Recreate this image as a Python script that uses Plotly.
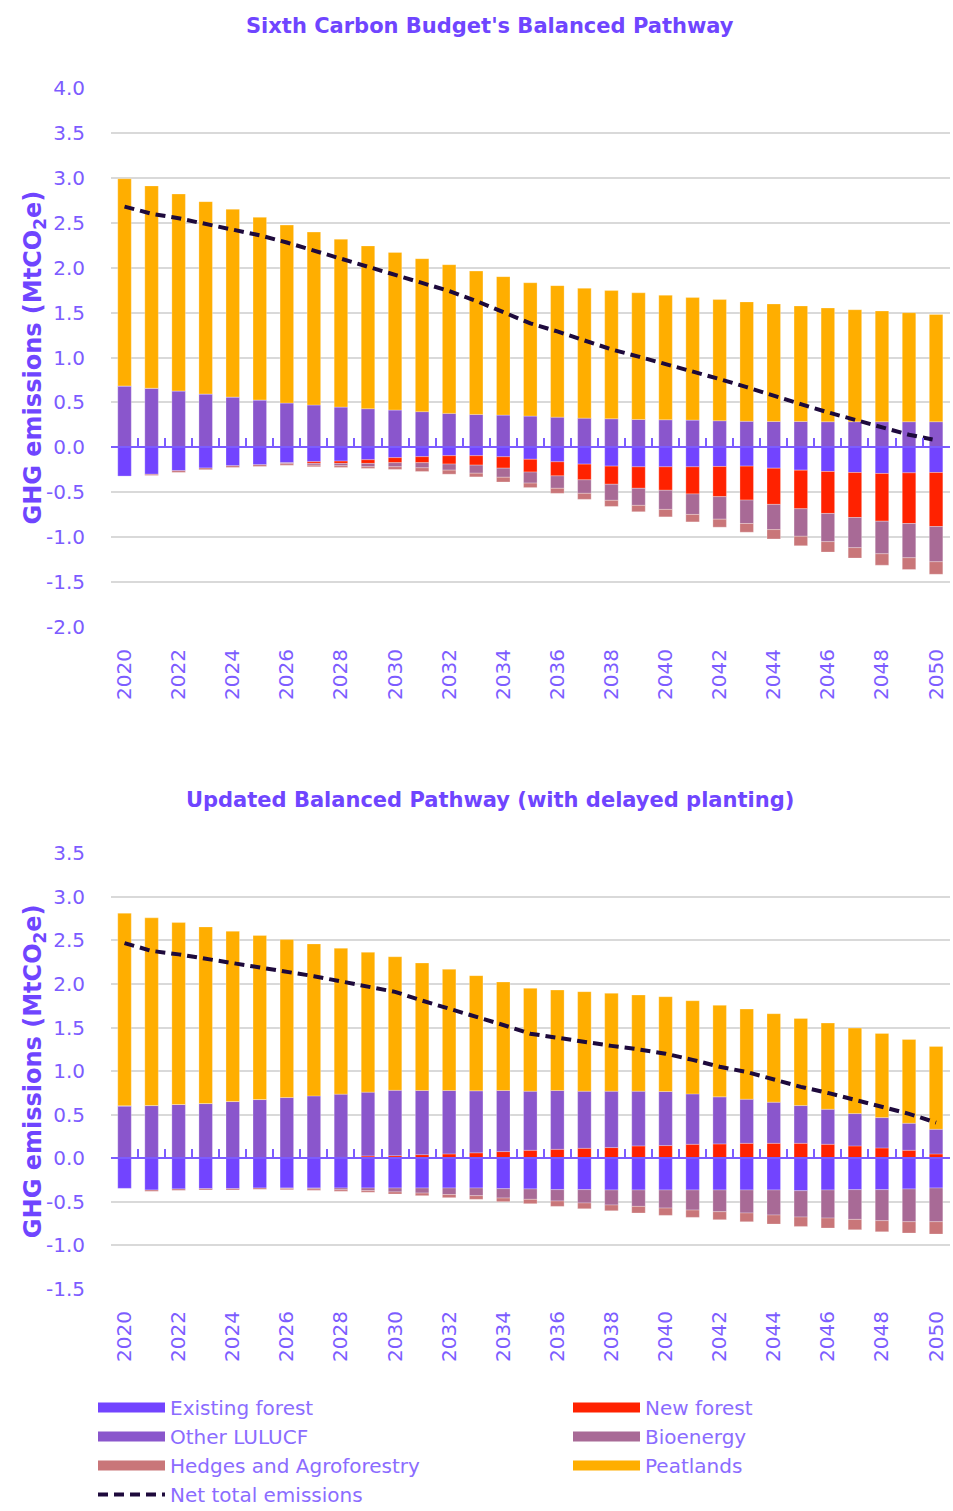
import plotly.graph_objects as go

years = list(range(2020, 2051))
even_years = list(range(2020, 2051, 2))
top_yticks = [-2.0, -1.5, -1.0, -0.5, 0.0, 0.5, 1.0, 1.5, 2.0, 2.5, 3.0, 3.5, 4.0]
bot_yticks = [-1.5, -1.0, -0.5, 0.0, 0.5, 1.0, 1.5, 2.0, 2.5, 3.0, 3.5]

# ---- Sixth Carbon Budget's Balanced Pathway (top) ----
top_existing = [-0.32, -0.30, -0.26, -0.23, -0.205, -0.194, -0.171, -0.16, -0.153, -0.138, -0.115,
                -0.104, -0.093, -0.093, -0.105, -0.133, -0.161, -0.187, -0.209, -0.217, -0.217,
                -0.217, -0.213, -0.209, -0.232, -0.254, -0.269, -0.28, -0.291, -0.284, -0.28]
top_new = [0, 0, 0.01, 0.01, 0.005, 0, 0, -0.019, -0.026, -0.041, -0.056,
           -0.067, -0.093, -0.105, -0.127, -0.142, -0.157, -0.175, -0.202, -0.239, -0.261,
           -0.302, -0.336, -0.378, -0.403, -0.43, -0.467, -0.501, -0.531, -0.564, -0.602]
top_other = [0.684, 0.658, 0.618, 0.584, 0.555, 0.527, 0.493, 0.471, 0.448, 0.43, 0.415,
             0.397, 0.378, 0.366, 0.359, 0.348, 0.336, 0.325, 0.318, 0.31, 0.307,
             0.303, 0.296, 0.29, 0.288, 0.288, 0.285, 0.285, 0.285, 0.285, 0.285]
top_bio = [0, 0, 0, 0, 0, 0, -0.012, -0.02, -0.026, -0.037, -0.045,
           -0.057, -0.068, -0.09, -0.101, -0.123, -0.138, -0.15, -0.179, -0.19, -0.213,
           -0.228, -0.251, -0.261, -0.281, -0.306, -0.314, -0.336, -0.363, -0.381, -0.392]
top_hedges = [0, -0.013, -0.019, -0.019, -0.019, -0.019, -0.017, -0.017, -0.019, -0.019, -0.03,
              -0.041, -0.045, -0.041, -0.053, -0.05, -0.056, -0.067, -0.068, -0.071, -0.083,
              -0.083, -0.089, -0.097, -0.104, -0.105, -0.116, -0.116, -0.127, -0.131, -0.139]
top_peat = [2.306, 2.252, 2.192, 2.141, 2.09, 2.033, 1.981, 1.925, 1.869, 1.812, 1.755,
            1.703, 1.655, 1.596, 1.541, 1.484, 1.464, 1.445, 1.427, 1.41, 1.386,
            1.364, 1.349, 1.329, 1.308, 1.286, 1.266, 1.247, 1.233, 1.214, 1.195]
top_net = [2.68, 2.60, 2.55, 2.49, 2.43, 2.36, 2.28, 2.19, 2.10, 2.01, 1.93,
           1.84, 1.74, 1.63, 1.51, 1.38, 1.29, 1.19, 1.09, 1.01, 0.93,
           0.84, 0.76, 0.67, 0.57, 0.48, 0.39, 0.31, 0.22, 0.14, 0.08]

# ---- Updated Balanced Pathway (with delayed planting) (bottom) ----
bot_existing = [-0.345, -0.364, -0.352, -0.349, -0.349, -0.341, -0.341, -0.341, -0.341, -0.341, -0.341,
                -0.341, -0.341, -0.341, -0.349, -0.352, -0.36, -0.36, -0.364, -0.364, -0.364,
                -0.364, -0.364, -0.364, -0.364, -0.372, -0.364, -0.36, -0.36, -0.352, -0.341]
bot_new = [0, 0, 0, 0, 0, 0, 0, 0.005, 0.01, 0.027, 0.03,
           0.042, 0.05, 0.063, 0.077, 0.092, 0.103, 0.115, 0.123, 0.142, 0.146,
           0.161, 0.165, 0.172, 0.172, 0.172, 0.161, 0.142, 0.119, 0.092, 0.05]
bot_other = [0.602, 0.605, 0.617, 0.628, 0.651, 0.674, 0.697, 0.711, 0.726, 0.732, 0.75,
             0.736, 0.728, 0.711, 0.701, 0.678, 0.675, 0.655, 0.647, 0.628, 0.62,
             0.578, 0.54, 0.506, 0.472, 0.433, 0.402, 0.371, 0.348, 0.31, 0.283]
bot_bio = [0, 0, 0, 0, 0, 0, -0.005, -0.01, -0.02, -0.03, -0.045,
           -0.058, -0.075, -0.088, -0.107, -0.119, -0.13, -0.153, -0.172, -0.188, -0.207,
           -0.23, -0.249, -0.264, -0.287, -0.302, -0.322, -0.341, -0.356, -0.376, -0.387]
bot_hedges = [0, -0.015, -0.016, -0.015, -0.015, -0.015, -0.015, -0.017, -0.018, -0.019, -0.024,
              -0.03, -0.036, -0.042, -0.042, -0.05, -0.062, -0.066, -0.066, -0.076, -0.084,
              -0.084, -0.092, -0.1, -0.104, -0.108, -0.115, -0.119, -0.127, -0.13, -0.142]
bot_peat = [2.21, 2.154, 2.088, 2.027, 1.954, 1.882, 1.813, 1.744, 1.674, 1.605, 1.533,
            1.463, 1.391, 1.322, 1.245, 1.18, 1.153, 1.142, 1.123, 1.104, 1.088,
            1.069, 1.05, 1.035, 1.015, 1.0, 0.989, 0.981, 0.966, 0.962, 0.951]
bot_net = [2.47, 2.38, 2.34, 2.29, 2.24, 2.20, 2.15, 2.09, 2.03, 1.97, 1.91,
           1.81, 1.72, 1.63, 1.53, 1.43, 1.38, 1.33, 1.29, 1.25, 1.20,
           1.13, 1.05, 0.99, 0.90, 0.82, 0.75, 0.67, 0.59, 0.51, 0.41]

series_names = ["Existing forest", "New forest", "Other LULUCF", "Bioenergy",
                "Hedges and Agroforestry", "Peatlands"]
series_colors = ["#7244FF", "#FF2200", "#8A56CC", "#A86A96", "#C97679", "#FFAE00"]
series_legend = ["legend", "legend2", "legend", "legend2", "legend", "legend2"]
top_series = [top_existing, top_new, top_other, top_bio, top_hedges, top_peat]
bot_series = [bot_existing, bot_new, bot_other, bot_bio, bot_hedges, bot_peat]

W, H = 953, 1511
FONT = "DejaVu Sans"
TICK_COLOR = "#7C5CFF"
LEG_COLOR = "#8B6CFF"
TITLE_COLOR = "#6F45FF"
LINE_COLOR = "#1E0A3C"
GRID = "#D9D9D9"

def px_y(p):
    return 1 - p / H

x_dom = [111 / W, 949.6 / W]
top_dom = [px_y(627), px_y(88)]
bot_dom = [px_y(1289), px_y(853.3)]
top_range = [-2, 4]
bot_range = [-1.5, 3.5]
top_zero = top_dom[0] + (top_dom[1] - top_dom[0]) * (0 - top_range[0]) / (top_range[1] - top_range[0])
bot_zero = bot_dom[0] + (bot_dom[1] - bot_dom[0]) * (0 - bot_range[0]) / (bot_range[1] - bot_range[0])

fig = go.Figure()

for xa, ya, data in (("x", "y", top_series), ("x2", "y2", bot_series)):
    for name, color, vals in zip(series_names, series_colors, data):
        fig.add_trace(go.Bar(x=years, y=vals, name=name, xaxis=xa, yaxis=ya,
                             marker=dict(color=color, line=dict(color="rgba(255,255,255,0.45)", width=0.6)),
                             showlegend=False))

# legend proxies (wide swatches)
for name, color, lg in zip(series_names, series_colors, series_legend):
    fig.add_trace(go.Scatter(x=[None], y=[None], mode="lines", name=name, legend=lg,
                             line=dict(color=color, width=11), xaxis="x", yaxis="y"))

fig.add_trace(go.Scatter(x=years, y=top_net, mode="lines", name="Net total emissions",
                         line=dict(color=LINE_COLOR, width=4, dash="10px,6px"),
                         xaxis="x", yaxis="y", legend="legend"))
fig.add_trace(go.Scatter(x=years, y=bot_net, mode="lines", name="Net total emissions",
                         line=dict(color=LINE_COLOR, width=4, dash="10px,6px"),
                         xaxis="x2", yaxis="y2", showlegend=False))

# dummy traces so the zero-line axes get drawn
fig.add_trace(go.Scatter(x=[2020], y=[0], mode="markers", marker=dict(opacity=0),
                         xaxis="x3", yaxis="y", showlegend=False, hoverinfo="skip"))
fig.add_trace(go.Scatter(x=[2020], y=[0], mode="markers", marker=dict(opacity=0),
                         xaxis="x4", yaxis="y2", showlegend=False, hoverinfo="skip"))

xcommon = dict(range=[2019.5, 2050.5], tickmode="array", tickvals=even_years,
               ticktext=[str(y) for y in even_years], tickangle=-90,
               ticks="outside", ticklen=13, tickcolor="rgba(0,0,0,0)",
               showgrid=False, zeroline=False, showline=False, automargin=False,
               tickfont=dict(family=FONT, size=20, color=TICK_COLOR), domain=x_dom)
ycommon = dict(showgrid=True, gridcolor=GRID, gridwidth=2, automargin=False,
               zeroline=False, showline=False, ticks="outside", ticklen=21,
               tickcolor="rgba(0,0,0,0)", tickmode="array",
               tickfont=dict(family=FONT, size=20, color=TICK_COLOR))
zcommon = dict(range=[2019.5, 2050.5], tickmode="linear", tick0=2019.5, dtick=1,
               ticks="inside", ticklen=8, tickwidth=2, tickcolor=TICK_COLOR,
               showline=True, linecolor=TICK_COLOR, linewidth=2, automargin=False,
               showticklabels=False, showgrid=False, zeroline=False, anchor="free")

legend_common = dict(orientation="v", xanchor="left", itemwidth=67,
                     font=dict(family=FONT, size=20, color=LEG_COLOR),
                     bgcolor="rgba(0,0,0,0)", borderwidth=0, tracegroupgap=0)

fig.update_layout(
    width=W, height=H,
    margin=dict(l=0, r=0, t=0, b=0, pad=0, autoexpand=False),
    paper_bgcolor="white", plot_bgcolor="white",
    barmode="relative", bargap=0.5,
    xaxis=dict(anchor="y", **xcommon),
    yaxis=dict(anchor="x", domain=top_dom, range=top_range, tickvals=top_yticks,
               ticktext=[f"{v:.1f}" for v in top_yticks], **ycommon),
    xaxis2=dict(anchor="y2", **xcommon),
    yaxis2=dict(anchor="x2", domain=bot_dom, range=bot_range, tickvals=bot_yticks,
                ticktext=[f"{v:.1f}" for v in bot_yticks], **ycommon),
    xaxis3=dict(overlaying="x", position=top_zero, **zcommon),
    xaxis4=dict(overlaying="x2", position=bot_zero, **zcommon),
    legend=dict(x=93 / W, y=px_y(1388), yanchor="top", **legend_common),
    legend2=dict(x=568 / W, y=px_y(1388), yanchor="top", **legend_common),
    annotations=[
        dict(text="<b>Sixth Carbon Budget's Balanced Pathway</b>", xref="paper", yref="paper",
             x=490 / W, y=px_y(26), showarrow=False, xanchor="center", yanchor="middle",
             font=dict(family=FONT, size=21, color=TITLE_COLOR)),
        dict(text="<b>Updated Balanced Pathway (with delayed planting)</b>", xref="paper", yref="paper",
             x=490 / W, y=px_y(800), showarrow=False, xanchor="center", yanchor="middle",
             font=dict(family=FONT, size=21, color=TITLE_COLOR)),
        dict(text="<b>GHG emissions (MtCO<sub>2</sub>e)</b>", xref="paper", yref="paper",
             x=34 / W, y=(top_dom[0] + top_dom[1]) / 2, showarrow=False, textangle=-90,
             xanchor="center", yanchor="middle",
             font=dict(family=FONT, size=24, color=TITLE_COLOR)),
        dict(text="<b>GHG emissions (MtCO<sub>2</sub>e)</b>", xref="paper", yref="paper",
             x=34 / W, y=(bot_dom[0] + bot_dom[1]) / 2, showarrow=False, textangle=-90,
             xanchor="center", yanchor="middle",
             font=dict(family=FONT, size=24, color=TITLE_COLOR)),
    ],
)

fig.write_html("out.html", config={"displayModeBar": False},
               post_script="document.body.style.margin='0';document.body.style.overflow='hidden';")
